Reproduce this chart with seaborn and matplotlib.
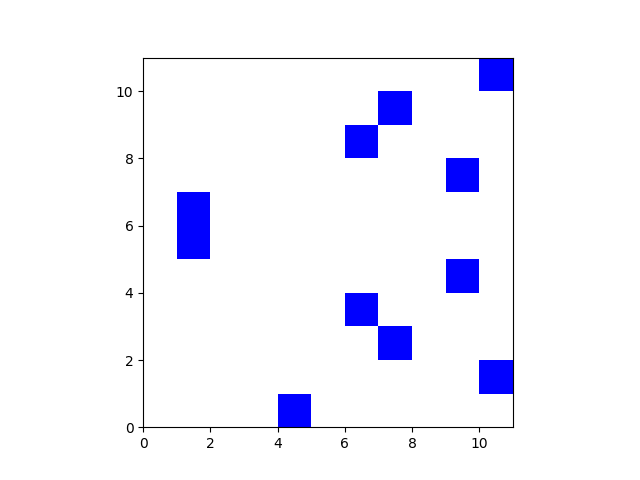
import numpy as np
import matplotlib
matplotlib.use('Agg')
import matplotlib.pyplot as plt
import seaborn as sns
from matplotlib.colors import ListedColormap

# filled cells of the 11x11 grid (column, row)
cols = [4, 10, 7, 6, 9, 1, 1, 9, 6, 7, 10]
rows = [0, 1, 2, 3, 4, 5, 6, 7, 8, 9, 10]
n = 11

grid = np.zeros((n, n))
grid[rows, cols] = 1

fig, ax = plt.subplots(figsize=(6.4, 4.8), dpi=100)
sns.heatmap(grid, cmap=ListedColormap(['white', 'blue']), cbar=False,
            square=True, ax=ax, linewidths=0)

ax.set_ylim(0, n)
ax.set_xlim(0, n)
ticks = np.arange(0, n, 2)
ax.set_xticks(ticks)
ax.set_xticklabels([str(t) for t in ticks], rotation=0)
ax.set_yticks(ticks)
ax.set_yticklabels([str(t) for t in ticks], rotation=0, va='center_baseline')
for s in ax.spines.values():
    s.set_visible(True)
    s.set_color('black')
    s.set_linewidth(0.8)

plt.savefig('out.png')
